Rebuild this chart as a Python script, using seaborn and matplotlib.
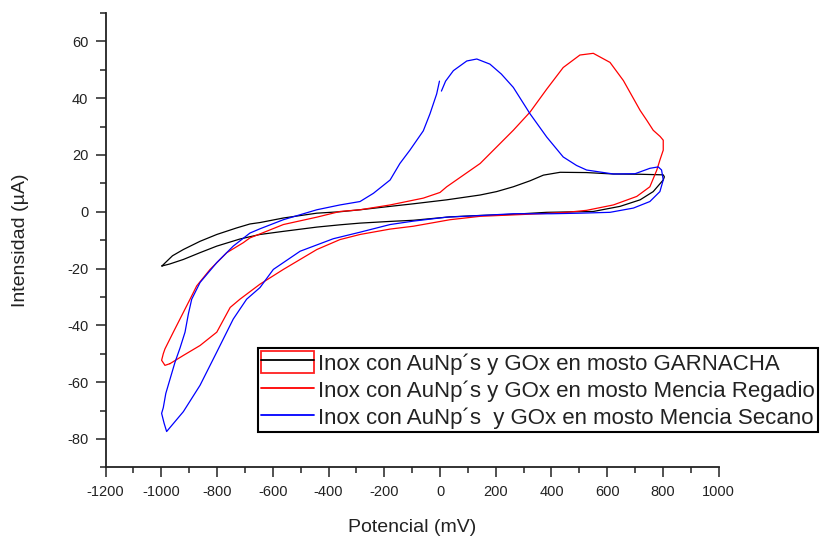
import numpy as np
import pandas as pd
import matplotlib
matplotlib.use("Agg")
import matplotlib.pyplot as plt
import seaborn as sns
from matplotlib.patches import Patch
from matplotlib.lines import Line2D
from matplotlib.legend_handler import HandlerTuple
from matplotlib.ticker import MultipleLocator

# ---------------- data ----------------
labels = [
    "Inox con AuNp´s y GOx en mosto GARNACHA",
    "Inox con AuNp´s y GOx en mosto Mencia Regadio",
    "Inox con AuNp´s  y GOx en mosto Mencia Secano",
]

garnacha_mv = [-998, -960, -921, -861, -801, -730, -682, -646, -562, -442, -359, -287,
               -179, -96, 24, 144, 203, 263, 323, 371, 431, 526, 621, 720, 801, 805,
               801, 765, 718, 646, 550, 383, 260, 144, 36, -96, -179, -287, -359, -442,
               -562, -646, -718, -801, -861, -921, -970, -998]
garnacha_ua = [-19.1, -15.5, -13.3, -10.4, -8.0, -5.7, -4.3, -3.8, -2.2, -0.5, 0.0, 0.7,
               1.9, 2.8, 4.2, 5.9, 7.1, 8.8, 10.9, 12.9, 13.9, 13.8, 13.3, 13.2, 13.0, 12.3,
               11.2, 7.1, 4.2, 1.9, 0.1, -0.2, -0.9, -1.3, -1.8, -3.0, -3.4, -4.0, -4.6, -5.4,
               -6.9, -8.0, -9.6, -12.1, -14.4, -16.8, -18.4, -19.1]

regadio_mv = [-969, -987, -999, -993, -987, -957, -927, -897, -873, -825, -765, -706,
              -682, -646, -562, -442, -359, -287, -179, -60, 0, 24, 144, 263, 323, 383,
              442, 502, 550, 610, 658, 718, 742, 765, 790, 801, 801, 789, 778, 753, 706,
              622, 526, 455, 359, 144, 36, -96, -179, -287, -359, -442, -562, -646, -718,
              -753, -801, -861, -921, -969]
regadio_ua = [-53.5, -54.1, -52.3, -50.0, -48.3, -42.4, -36.6, -30.8, -26.1, -20.3, -14.4,
              -10.9, -9.2, -7.8, -4.5, -1.9, 0.1, 0.7, 2.4, 4.8, 6.8, 8.8, 17.0, 28.7, 35.1,
              43.2, 50.8, 55.2, 55.8, 52.6, 46.2, 35.7, 32.2, 28.7, 26.5, 25.2, 21.7, 18.2,
              14.7, 8.8, 5.4, 2.4, 0.5, -0.2, -0.7, -1.6, -2.8, -5.1, -6.1, -8.0, -9.8,
              -13.3, -20.3, -25.5, -30.8, -33.7, -42.4, -47.1, -50.6, -53.5]

secano_mv = [5, 20, 48, 96, 132, 179, 220, 263, 323, 383, 442, 490, 526, 622, 700, 753,
             783, 795, 801, 789, 753, 694, 610, 502, 400, 263, 150, 24, -96, -179, -287,
             -383, -502, -598, -646, -694, -742, -801, -861, -921, -981, -990, -999, -993,
             -984, -969, -951, -933, -915, -903, -891, -861, -801, -742, -682, -646, -562,
             -442, -359, -287, -239, -179, -144, -108, -60, -36, -12, -2]
secano_ua = [42.5, 46.0, 49.7, 53.1, 53.8, 52.0, 48.5, 43.8, 34.5, 26.3, 19.3, 16.3, 14.7,
             13.3, 13.4, 15.3, 15.8, 14.7, 11.2, 7.1, 3.6, 1.3, -0.2, -0.5, -0.7, -0.7,
             -1.3, -1.9, -3.3, -4.5, -7.2, -9.5, -13.9, -20.3, -26.7, -30.8, -37.8, -49.4,
             -61.1, -70.4, -77.4, -74.5, -71.0, -69.0, -64.0, -59.0, -53.0, -48.0, -42.4,
             -36.0, -30.8, -24.9, -17.9, -12.1, -7.5, -6.0, -2.8, 0.7, 2.4, 3.6, 6.5, 11.2,
             17.0, 21.7, 28.5, 34.5, 41.5, 46.0]

colors = ["#000000", "#ff0000", "#0000ff"]

x_ticks = list(range(-1200, 1001, 200))
y_ticks = list(range(-80, 61, 20))

# ---------------- build table ----------------
frames = []
for lab, xs, ys in zip(labels, [garnacha_mv, regadio_mv, secano_mv],
                       [garnacha_ua, regadio_ua, secano_ua]):
    frames.append(pd.DataFrame({"mv": xs, "ua": ys, "serie": lab}))
df = pd.concat(frames, ignore_index=True)

# ---------------- plot ----------------
sns.set_style("ticks")
plt.rcParams["font.family"] = ["Liberation Sans", "DejaVu Sans"]
plt.rcParams["axes.unicode_minus"] = False

W, H = 824, 537
fig = plt.figure(figsize=(W / 100, H / 100), dpi=100)
left, right, top, bottom = 105.6, 718.7, 13.0, 467.3
ax = fig.add_axes([left / W, 1 - bottom / H, (right - left) / W, (bottom - top) / H])

sns.lineplot(data=df, x="mv", y="ua", hue="serie", palette=dict(zip(labels, colors)),
             sort=False, estimator=None, linewidth=0.9, legend=False, ax=ax)

ax.set_xlim(-1200, 1000)
ax.set_ylim(-90, 70)
ax.set_xticks(x_ticks)
ax.set_xticklabels([str(v) for v in x_ticks])
ax.set_yticks(y_ticks)
ax.set_yticklabels([str(v) for v in y_ticks])
ax.xaxis.set_minor_locator(MultipleLocator(100))
ax.yaxis.set_minor_locator(MultipleLocator(10))

for s in ["top", "right"]:
    ax.spines[s].set_visible(False)
for s in ["left", "bottom"]:
    ax.spines[s].set_linewidth(1.3)
    ax.spines[s].set_color("#222222")

ax.tick_params(which="major", length=7.5, width=1.1, color="#222222",
               labelsize=10.5, labelcolor="#222222", pad=5)
ax.tick_params(which="minor", length=4.3, width=1.1, color="#222222")

ax.set_xlabel("Potencial (mV)", fontsize=14, color="#222222")
ax.set_ylabel("Intensidad (µA)", fontsize=14, color="#222222")
ax.xaxis.set_label_coords(0.5, -0.114)
ax.yaxis.set_label_coords(-0.125, 0.5)

# legend
box = Patch(facecolor="none", edgecolor="#ff2020", linewidth=1.3)
h1 = Line2D([], [], color=colors[0], linewidth=1.3)
h2 = Line2D([], [], color=colors[1], linewidth=1.3)
h3 = Line2D([], [], color=colors[2], linewidth=1.3)
leg = fig.legend(handles=[(box, h1), h2, h3], labels=labels,
                 handler_map={tuple: HandlerTuple(ndivide=1, pad=0)},
                 loc="upper left", bbox_to_anchor=(258 / W, 1 - 347.7 / H),
                 bbox_transform=fig.transFigure, borderaxespad=0,
                 fontsize=16, frameon=True, fancybox=False, framealpha=1,
                 edgecolor="black", handlelength=2.35, handleheight=1.16,
                 handletextpad=0.2, borderpad=0.15, labelspacing=0.16)
leg.get_frame().set_linewidth(1.5)
for t in leg.get_texts():
    t.set_color("#222222")

fig.savefig("out.png", dpi=100)
